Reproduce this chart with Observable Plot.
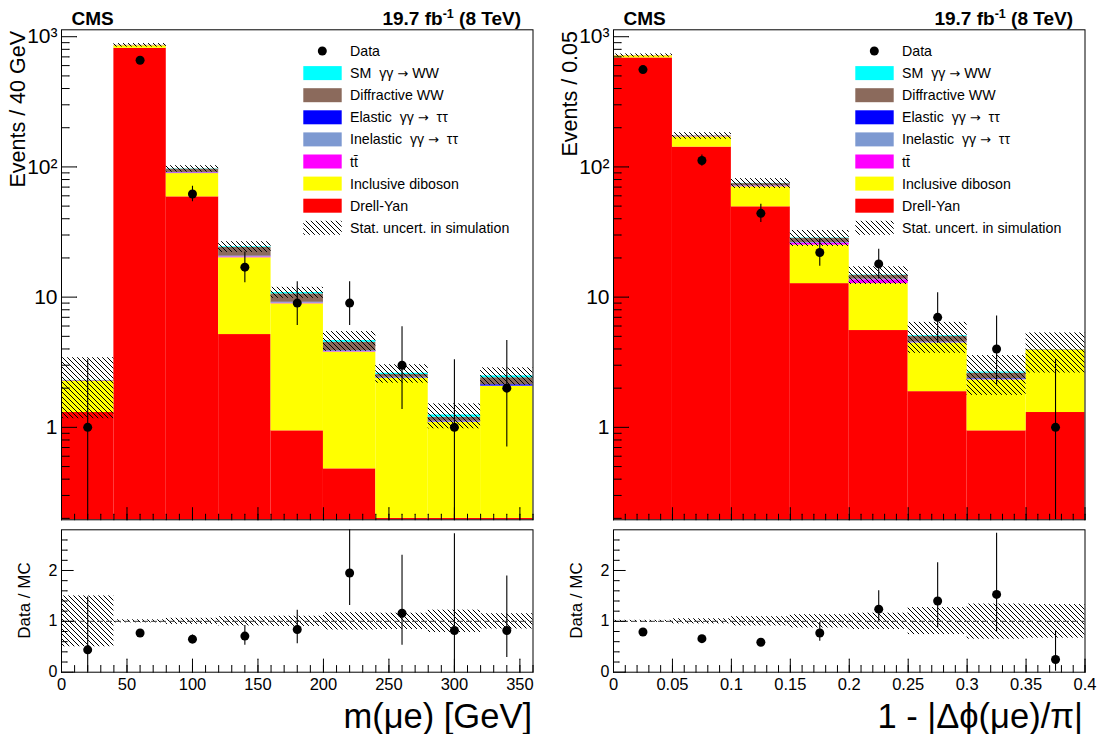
<!DOCTYPE html>
<html>
<head>
<meta charset="utf-8">
<script src="https://cdn.jsdelivr.net/npm/d3@7"></script>
<script src="https://cdn.jsdelivr.net/npm/@observablehq/plot@0.6"></script>
<style>
  body { margin: 0; background: #fff; }
  #root { position: relative; width: 1100px; height: 734px; overflow: hidden; background: #fff;
          font-family: "Liberation Sans", Arial, Helvetica, sans-serif; }
  #root svg { position: absolute; max-width: none; }
</style>
</head>
<body>
<div id="root"></div>
<script>
// ---------------- DATA ----------------
// Left: m(mu e) distribution, 40 GeV bins
const massEdges   = [0, 40, 80, 120, 160, 200, 240, 280, 320, 360];
const massDY      = [1.30, 814, 58.9, 5.16, 0.94, 0.48, 0.2, 0.2, 0.2];
const massDiboson = [0.96, 39, 30, 14.9, 7.95, 3.30, 2.18, 0.89, 1.86];
const massTT      = [0.01, 2.0, 1.0, 0.3, 0.10, 0.03, 0.005, 0.005, 0.005];
const massInelTT  = [0.005, 0.5, 0.5, 0.2, 0.10, 0.05, 0.02, 0.01, 0.01];
const massElTT    = [0.005, 0.3, 0.3, 0.1, 0.05, 0.02, 0.02, 0.01, 0.05];
const massDiffWW  = [0.01, 3.0, 5.5, 3.4, 1.45, 0.62, 0.12, 0.08, 0.28];
const massSMWW    = [0.005, 0.3, 0.5, 0.3, 0.25, 0.14, 0.06, 0.05, 0.08];
const massStatUnc = [1.13, 27, 5.5, 2.3, 1.05, 0.80, 0.42, 0.27, 0.38];
const massData    = [1, 660, 62, 17, 9, 9, 3, 1, 2];
const massDataLo  = [0.173, 634, 54.1, 12.9, 6.06, 6.06, 1.37, 0.173, 0.708];
const massDataHi  = [3.30, 686, 70.9, 22.2, 13.1, 13.1, 5.92, 3.30, 4.64];
const massRatio   = [0.44, 0.77, 0.65, 0.71, 0.84, 1.95, 1.16, 0.82, 0.82];
const massRatioLo = [0.0, 0.74, 0.57, 0.53, 0.56, 1.31, 0.53, 0.0, 0.29];
const massRatioHi = [1.48, 0.80, 0.73, 0.92, 1.22, 2.83, 2.30, 2.72, 1.89];
const massBandLo  = [0.50, 0.97, 0.94, 0.91, 0.90, 0.83, 0.84, 0.78, 0.85];
const massBandHi  = [1.50, 1.03, 1.06, 1.09, 1.10, 1.17, 1.16, 1.22, 1.15];
const massXTicks  = [0, 50, 100, 150, 200, 250, 300, 350];

// Right: 1 - |dphi/pi| distribution, 0.05 bins
const dphiEdges   = [0, 0.05, 0.1, 0.15, 0.2, 0.25, 0.3, 0.35, 0.4];
const dphiDY      = [687, 142, 49.4, 12.7, 5.54, 1.88, 0.94, 1.30];
const dphiDiboson = [27, 28, 21, 12.4, 7.16, 2.55, 1.37, 2.63];
const dphiTT      = [2.0, 1.0, 0.8, 0.9, 0.9, 0.02, 0.01, 0.005];
const dphiInelTT  = [0.3, 0.3, 0.3, 0.2, 0.1, 0.05, 0.03, 0.005];
const dphiElTT    = [0.2, 0.2, 0.2, 0.1, 0.05, 0.03, 0.02, 0.005];
const dphiDiffWW  = [0.5, 1.5, 2.8, 2.0, 0.95, 0.45, 0.24, 0.01];
const dphiSMWW    = [0.1, 0.1, 0.3, 0.2, 0.1, 0.07, 0.05, 0.005];
const dphiStatUnc = [20, 10, 6.5, 4.0, 2.3, 1.35, 0.9, 1.35];
const dphiData    = [559, 112, 44, 22, 18, 7, 4, 1];
const dphiDataLo  = [535.4, 101.4, 37.4, 17.3, 13.8, 4.42, 2.09, 0.173];
const dphiDataHi  = [583.1, 123.6, 51.7, 27.8, 23.3, 10.8, 7.16, 3.30];
const dphiRatio   = [0.79, 0.66, 0.59, 0.77, 1.24, 1.40, 1.53, 0.25];
const dphiRatioLo = [0.76, 0.61, 0.53, 0.61, 1.00, 0.87, 0.79, 0.02];
const dphiRatioHi = [0.82, 0.71, 0.66, 0.98, 1.60, 2.15, 2.73, 0.82];
const dphiBandLo  = [0.98, 0.95, 0.91, 0.87, 0.84, 0.74, 0.65, 0.67];
const dphiBandHi  = [1.02, 1.05, 1.09, 1.13, 1.16, 1.27, 1.34, 1.33];
const dphiXTicks  = [0, 0.05, 0.1, 0.15, 0.2, 0.25, 0.3, 0.35, 0.4];

// Processes, bottom to top of the stack
const processNames  = ["Drell-Yan", "Inclusive diboson", "tt\u0304", "Inelastic  \u03b3\u03b3 \u2192  \u03c4\u03c4",
                       "Elastic  \u03b3\u03b3 \u2192  \u03c4\u03c4", "Diffractive WW", "SM  \u03b3\u03b3 \u2192 WW"];
const processColors = ["#ff0000", "#ffff00", "#ff00ff", "#7d99d1", "#0000ff", "#8b6a5c", "#00ffff"];

const mainYTicks  = [1, 10, 100, 1000];
const mainYLabels = ["1", "10", "10\u00b2", "10\u00b3"];
const ratioYTicks = [0, 1, 2];
const mainYDomain  = [0.195, 1130];
const ratioYDomain = [0, 2.8];

// ---------------- LAYOUT ----------------
const FONT = '"Liberation Sans", Arial, Helvetica, sans-serif';
const PANEL_W = 548;
const FRAME_L = 61, FRAME_R = 532.5;
const MAIN_H = 522, MAIN_TOP = 29.3, MAIN_BOT = 519.3;
const RATIO_TOP_PX = 522, RATIO_H = 212, RATIO_FT = 529.3, RATIO_FB = 671.7;

const root = document.getElementById("root");
root.insertAdjacentHTML("beforeend",
  `<svg width="0" height="0" style="position:absolute;left:0;top:0"><defs>
     <pattern id="hatch" patternUnits="userSpaceOnUse" width="5" height="5">
       <path d="M0,0L5,5M-1,4L1,6M4,-1L6,1" stroke="#000" stroke-width="1" shape-rendering="crispEdges"/>
     </pattern></defs></svg>`);

function stackRows(edges, layers, yMin) {
  const out = layers.map(() => []);
  for (let i = 0; i < edges.length - 1; i++) {
    let cum = 0;
    layers.forEach((vals, k) => {
      const lo = k === 0 ? yMin : cum;
      cum += vals[i];
      out[k].push({x1: edges[i], x2: edges[i + 1], y1: lo, y2: cum});
    });
  }
  return out;
}

function tickVectors(values, opts) {
  return Plot.vector(values, {r: 0, stroke: "black", strokeWidth: 1, anchor: "start", ...opts});
}

function mainPanel(o) {
  const layers = [o.dy, o.dib, o.tt, o.inel, o.el, o.diff, o.sm];
  const rows = stackRows(o.edges, layers, mainYDomain[0]);
  const tot = o.edges.slice(0, -1).map((e, i) => layers.reduce((s, l) => s + l[i], 0));
  const hatch = tot.map((t, i) => ({x1: o.edges[i], x2: o.edges[i + 1], y1: t - o.unc[i], y2: t + o.unc[i]}));
  const pts = o.data.map((v, i) => ({x: (o.edges[i] + o.edges[i + 1]) / 2, y: v, lo: o.lo[i], hi: o.hi[i]}));
  const yMinor = [0.1, 1, 10, 100].flatMap(d => d3.range(2, 10).map(k => k * d))
    .filter(v => v >= mainYDomain[0] && v <= mainYDomain[1]);
  const p = Plot.plot({
    width: PANEL_W, height: MAIN_H,
    marginLeft: FRAME_L, marginRight: PANEL_W - FRAME_R, marginTop: MAIN_TOP, marginBottom: MAIN_H - MAIN_BOT,
    x: {domain: o.xDomain, axis: null},
    y: {type: "log", domain: mainYDomain},
    style: {fontFamily: FONT, color: "black", background: "transparent", overflow: "visible"},
    marks: [
      ...rows.map((r, k) => Plot.rect(r, {x1: "x1", x2: "x2", y1: "y1", y2: "y2", fill: processColors[k]})),
      Plot.rect(hatch, {x1: "x1", x2: "x2", y1: "y1", y2: "y2", fill: "url(#hatch)"}),
      tickVectors(mainYTicks, {y: d => d, frameAnchor: "left", rotate: 90, length: 15}),
      tickVectors(yMinor, {y: d => d, frameAnchor: "left", rotate: 90, length: 7.5}),
      tickVectors(o.xMajor, {x: d => d, frameAnchor: "bottom", rotate: 0, length: 12}),
      tickVectors(o.xMinor, {x: d => d, frameAnchor: "bottom", rotate: 0, length: 5.5}),
      Plot.frame({stroke: "black", strokeWidth: 1}),
      Plot.ruleX(pts, {x: "x", y1: "lo", y2: "hi", stroke: "black", strokeWidth: 1.1, clip: true}),
      Plot.dot(pts, {x: "x", y: "y", r: 4.5, fill: "black", stroke: "none"}),
      Plot.axisY({ticks: mainYTicks, tickSize: 0, tickPadding: 4, fontSize: 21, label: null,
                  tickFormat: d => mainYLabels[mainYTicks.indexOf(d)]})
    ]
  });
  p.style.left = o.left + "px"; p.style.top = "0px";
  return p;
}

function ratioPanel(o) {
  const band = o.bandLo.map((b, i) => ({x1: o.edges[i], x2: o.edges[i + 1], y1: b, y2: o.bandHi[i]}));
  const pts = o.ratio.map((v, i) => ({x: (o.edges[i] + o.edges[i + 1]) / 2, y: v, lo: o.lo[i], hi: o.hi[i]}));
  const yMinor = d3.range(0, 28).map(k => k * 0.2).filter(v => v <= ratioYDomain[1] && Math.abs(v - Math.round(v)) > 1e-6);
  const p = Plot.plot({
    width: PANEL_W, height: RATIO_H,
    marginLeft: FRAME_L, marginRight: PANEL_W - FRAME_R,
    marginTop: RATIO_FT - RATIO_TOP_PX, marginBottom: RATIO_TOP_PX + RATIO_H - RATIO_FB,
    x: {domain: o.xDomain},
    y: {domain: ratioYDomain},
    style: {fontFamily: FONT, color: "black", background: "transparent", overflow: "visible"},
    marks: [
      Plot.rect(band, {x1: "x1", x2: "x2", y1: "y1", y2: "y2", fill: "url(#hatch)"}),
      Plot.ruleY([1], {stroke: "#444", strokeWidth: 1, strokeDasharray: "6,3"}),
      tickVectors(ratioYTicks, {y: d => d, frameAnchor: "left", rotate: 90, length: 11.5}),
      tickVectors(yMinor, {y: d => d, frameAnchor: "left", rotate: 90, length: 5.5}),
      tickVectors(o.xMajor, {x: d => d, frameAnchor: "bottom", rotate: 0, length: 13}),
      tickVectors(o.xMinor, {x: d => d, frameAnchor: "bottom", rotate: 0, length: 6.5}),
      Plot.frame({stroke: "black", strokeWidth: 1}),
      Plot.ruleX(pts, {x: "x", y1: "lo", y2: "hi", stroke: "black", strokeWidth: 1.1, clip: true}),
      Plot.dot(pts, {x: "x", y: "y", r: 4.5, fill: "black", stroke: "none"}),
      Plot.axisY({ticks: ratioYTicks, tickSize: 0, tickPadding: 4, fontSize: 16, label: null, tickFormat: d => String(d)}),
      Plot.axisX({ticks: o.xMajor, tickSize: 0, tickPadding: 6, fontSize: 16.5, label: null,
                  tickFormat: d => String(+d.toFixed(2))})
    ]
  });
  p.style.left = o.left + "px"; p.style.top = RATIO_TOP_PX + "px";
  return p;
}

const massMinor = d3.range(0, 361, 10);
const dphiMinor = d3.range(0, 41).map(k => k / 100);

root.appendChild(mainPanel({
  left: 0, edges: massEdges, xDomain: [0, 360], xMajor: massXTicks, xMinor: massMinor,
  dy: massDY, dib: massDiboson, tt: massTT, inel: massInelTT, el: massElTT, diff: massDiffWW, sm: massSMWW,
  unc: massStatUnc, data: massData, lo: massDataLo, hi: massDataHi
}));
root.appendChild(ratioPanel({
  left: 0, edges: massEdges, xDomain: [0, 360], xMajor: massXTicks, xMinor: massMinor,
  ratio: massRatio, lo: massRatioLo, hi: massRatioHi, bandLo: massBandLo, bandHi: massBandHi
}));
root.appendChild(mainPanel({
  left: 552, edges: dphiEdges, xDomain: [0, 0.4], xMajor: dphiXTicks, xMinor: dphiMinor,
  dy: dphiDY, dib: dphiDiboson, tt: dphiTT, inel: dphiInelTT, el: dphiElTT, diff: dphiDiffWW, sm: dphiSMWW,
  unc: dphiStatUnc, data: dphiData, lo: dphiDataLo, hi: dphiDataHi
}));
root.appendChild(ratioPanel({
  left: 552, edges: dphiEdges, xDomain: [0, 0.4], xMajor: dphiXTicks, xMinor: dphiMinor,
  ratio: dphiRatio, lo: dphiRatioLo, hi: dphiRatioHi, bandLo: dphiBandLo, bandHi: dphiBandHi
}));

// ---------------- TEXT & LEGEND OVERLAY ----------------
const yTitles = ["Events / 40 GeV", "Events / 0.05"];
const xTitles = ["m(\u03bce) [GeV]", "1 - |\u0394\u03d5(\u03bce)/\u03c0|"];
const legendRows = [
  {label: "Data", kind: "dot"},
  {label: processNames[6], color: processColors[6]},
  {label: processNames[5], color: processColors[5]},
  {label: processNames[4], color: processColors[4]},
  {label: processNames[3], color: processColors[3]},
  {label: processNames[2], color: processColors[2]},
  {label: processNames[1], color: processColors[1]},
  {label: processNames[0], color: processColors[0]},
  {label: "Stat. uncert. in simulation", kind: "hatch"}
];
// the arrow is set in DejaVu Sans, whose arrow is long like the original's
const withArrow = s => s.replace("\u2192", `<tspan font-family="'DejaVu Sans'" font-size="13">\u2192</tspan>`);

let ov = `<svg width="1100" height="734" style="left:0;top:0;pointer-events:none;font-family:${FONT.replace(/"/g, "'")}">`;
[0, 552].forEach((off, pi) => {
  ov += `<text x="${71.5 + off}" y="25" font-size="19" font-weight="bold">CMS</text>`;
  ov += `<text x="${521 + off}" y="25" font-size="19" font-weight="bold" text-anchor="end">19.7 fb<tspan dy="-7" font-size="12.5">-1</tspan><tspan dy="7"> (8 TeV)</tspan></text>`;
  ov += `<text transform="translate(${25 + off},31) rotate(-90)" font-size="21.5" text-anchor="end">${yTitles[pi]}</text>`;
  ov += `<text transform="translate(${29.5 + off},600.5) rotate(-90)" font-size="17" text-anchor="middle">Data / MC</text>`;
  ov += `<text x="${(pi === 0 ? 532 : 1083) }" y="728" font-size="34.5" text-anchor="end">${xTitles[pi]}</text>`;
  legendRows.forEach((row, k) => {
    const cy = 51 + 22.1 * k;
    const sx = 303.3 + off, sw = 38.4, sh = 14;
    if (row.kind === "dot") ov += `<circle cx="${322.3 + off}" cy="${cy}" r="4.5" fill="black"/>`;
    else if (row.kind === "hatch") ov += `<rect x="${sx}" y="${cy - sh / 2}" width="${sw}" height="${sh}" fill="url(#hatch)"/>`;
    else ov += `<rect x="${sx}" y="${cy - sh / 2}" width="${sw}" height="${sh}" fill="${row.color}"/>`;
    ov += `<text x="${350 + off}" y="${cy + 5}" font-size="14.2" xml:space="preserve">${withArrow(row.label)}</text>`;
  });
});
ov += `</svg>`;
root.insertAdjacentHTML("beforeend", ov);
</script>
</body>
</html>
